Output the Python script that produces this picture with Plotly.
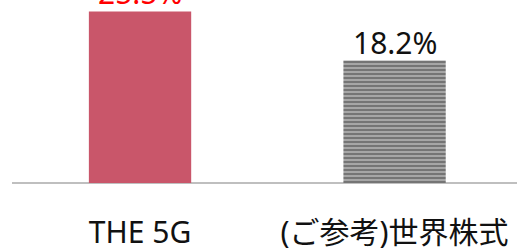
import plotly.graph_objects as go

categories = ["THE 5G", "(ご参考)世界株式"]
values = [25.5, 18.2]
labels = ["25.5%", "18.2%"]
label_colors = ["#FF0000", "#111111"]
bar_colors = ["#C9566A", "#A6A6A6"]
patterns = ["", "-"]

FONT = "Noto Sans, Noto Sans CJK JP"

fig = go.Figure()
fig.add_trace(go.Bar(
    x=categories, y=values,
    marker=dict(color=bar_colors, line=dict(width=0),
                pattern=dict(shape=patterns, fgcolor="#5E5E5E", bgcolor="#A6A6A6",
                             size=4, solidity=0.5, fillmode="overlay")),
    width=0.402, hoverinfo="skip",
))
for c, v, t, col in zip(categories, values, labels, label_colors):
    fig.add_annotation(x=c, y=v, text=t, showarrow=False, yanchor="bottom",
                       yshift=-4, font=dict(size=30, color=col, family=FONT))

fig.update_layout(
    width=517, height=251,
    margin=dict(l=12, r=0, t=0, b=68, pad=0, autoexpand=False),
    paper_bgcolor="white", plot_bgcolor="white",
    showlegend=False,
    xaxis=dict(range=[-0.503, 1.481], showgrid=False, zeroline=False,
               showline=False, ticks="", ticklabelstandoff=29, automargin=False,
               tickfont=dict(size=30, color="#111111", family=FONT)),
    yaxis=dict(range=[0, 27.2], showgrid=False, zeroline=True, automargin=False,
               zerolinecolor="#BFBFBF", zerolinewidth=2,
               showticklabels=False, ticks=""),
)
fig.write_html("out.html", config={"displayModeBar": False},
               post_script="document.body.style.margin='0';")
